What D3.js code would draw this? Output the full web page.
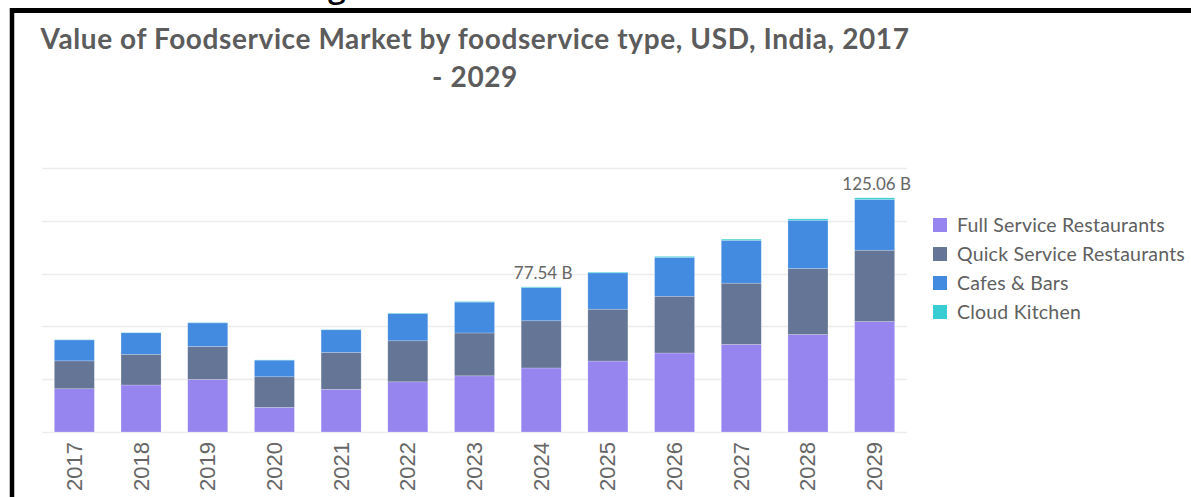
<!DOCTYPE html>
<html>
<head>
<meta charset="utf-8">
<script src="https://cdn.jsdelivr.net/npm/d3@7"></script>
<style>
  body { margin: 0; background: #fff; }
  svg { display: block; }
</style>
</head>
<body>
<svg id="chart" width="1191" height="497"></svg>
<script>
// Data (billions of USD)
const years = ['2017', '2018', '2019', '2020', '2021', '2022', '2023', '2024', '2025', '2026', '2027', '2028', '2029']
const fullService = [23.1, 25.1, 28.1, 13.2, 22.8, 26.8, 30.0, 34.2, 37.9, 42.2, 46.8, 52.1, 59.0]
const quickService = [14.9, 16.4, 17.6, 16.3, 19.7, 21.9, 22.9, 25.2, 27.7, 30.3, 32.7, 35.2, 38.1]
const cafesBars = [11.2, 11.5, 12.6, 8.9, 12.1, 14.6, 16.5, 17.8, 19.4, 20.8, 22.9, 25.8, 27.1]
const cloudKitchen = [0.15, 0.17, 0.2, 0.1, 0.18, 0.25, 0.3, 0.34, 0.42, 0.5, 0.6, 0.72, 0.86]
const seriesNames = ['Full Service Restaurants', 'Quick Service Restaurants', 'Cafes & Bars', 'Cloud Kitchen']
const seriesColors = ['#9685ef', '#647596', '#438be0', '#38cdd2']
const gridValues = [0, 28.2, 56.4, 84.6, 112.8, 141]
const labelled = [{ year: '2024', text: '77.54 B' }, { year: '2029', text: '125.06 B' }]

const width = 1191
const height = 497
const svg = d3.select('#chart')

// table for the stack
const table = years.map((y, i) => ({
    year: y,
    [seriesNames[0]]: fullService[i],
    [seriesNames[1]]: quickService[i],
    [seriesNames[2]]: cafesBars[i],
    [seriesNames[3]]: cloudKitchen[i]
}))
const stacked = d3.stack().keys(seriesNames)(table)

const x = d3.scaleBand()
    .domain(years)
    .range([41, 908])
    .paddingInner(0.4)
    .paddingOuter(0.2)

const y = d3.scaleLinear()
    .domain([0, 141])
    .range([432, 168])

const color = d3.scaleOrdinal().domain(seriesNames).range(seriesColors)

// frame of the screenshot
svg.append('line')
    .attr('x1', 10).attr('x2', width).attr('y1', 10.5).attr('y2', 10.5)
    .attr('stroke', '#000').attr('stroke-width', 5)
svg.append('line')
    .attr('x1', 12).attr('x2', 12).attr('y1', 8).attr('y2', height)
    .attr('stroke', '#000').attr('stroke-width', 4.5)
// cut off heading above the frame
svg.append('text')
    .attr('x', 328).attr('y', -3)
    .style('font-family', 'Open Sans, sans-serif')
    .style('font-size', '32px')
    .style('font-weight', 600)
    .attr('fill', '#000')
    .text('g')

// title
const title = svg.append('text')
    .attr('text-anchor', 'middle')
    .style('font-family', 'Lato, sans-serif')
    .style('font-size', '28px')
    .style('font-weight', 700)
    .style('letter-spacing', '0.6px')
    .attr('fill', '#5c5c5c')
title.append('tspan').attr('x', 475).attr('y', 49)
    .text('Value of Foodservice Market by foodservice type, USD, India, 2017')
title.append('tspan').attr('x', 475).attr('y', 87)
    .text('- 2029')

// gridlines
svg.append('g')
    .selectAll('line')
    .data(gridValues)
    .join('line')
    .attr('x1', 42).attr('x2', 907)
    .attr('y1', d => Math.round(y(d)) + 0.5)
    .attr('y2', d => Math.round(y(d)) + 0.5)
    .attr('stroke', '#ececec')
    .attr('stroke-width', 1.5)

// stacked bars
svg.append('g')
    .selectAll('g')
    .data(stacked)
    .join('g')
    .attr('fill', d => color(d.key))
    .selectAll('rect')
    .data(d => d)
    .join('rect')
    .attr('x', d => x(d.data.year))
    .attr('y', d => y(d[1]))
    .attr('width', x.bandwidth())
    .attr('height', d => y(d[0]) - y(d[1]))
    .attr('stroke', 'rgba(255,255,255,0.35)')
    .attr('stroke-width', 0.6)

// totals above two bars
const totalOf = yr => d3.sum(stacked, s => s.find(d => d.data.year === yr)[1] - s.find(d => d.data.year === yr)[0])
svg.append('g')
    .selectAll('text')
    .data(labelled)
    .join('text')
    .attr('x', d => x(d.year) + x.bandwidth() / 2 + 2)
    .attr('y', d => y(totalOf(d.year)) - 8)
    .attr('text-anchor', 'middle')
    .style('font-family', 'Lato, sans-serif')
    .style('font-size', '17px')
    .attr('fill', '#666')
    .text(d => d.text)

// x axis labels, rotated
svg.append('g')
    .selectAll('text')
    .data(years)
    .join('text')
    .attr('transform', d => `translate(${x(d) + x.bandwidth() / 2 + 7.5}, 442) rotate(-90)`)
    .attr('text-anchor', 'end')
    .style('font-family', 'Liberation Sans, Arial, sans-serif')
    .style('font-size', '22px')
    .attr('fill', '#666')
    .text(d => d)

// legend
const legend = svg.append('g')
    .attr('transform', 'translate(933, 218)')
const rows = legend.selectAll('g')
    .data(seriesNames)
    .join('g')
    .attr('transform', (d, i) => `translate(0, ${i * 29})`)
rows.append('rect')
    .attr('width', 14).attr('height', 14)
    .attr('fill', d => color(d))
rows.append('text')
    .attr('x', 24).attr('y', 14)
    .style('font-family', 'Lato, sans-serif')
    .style('font-size', '19.5px')
    .style('letter-spacing', '0.2px')
    .attr('fill', '#606060')
    .text(d => d)
</script>
</body>
</html>
